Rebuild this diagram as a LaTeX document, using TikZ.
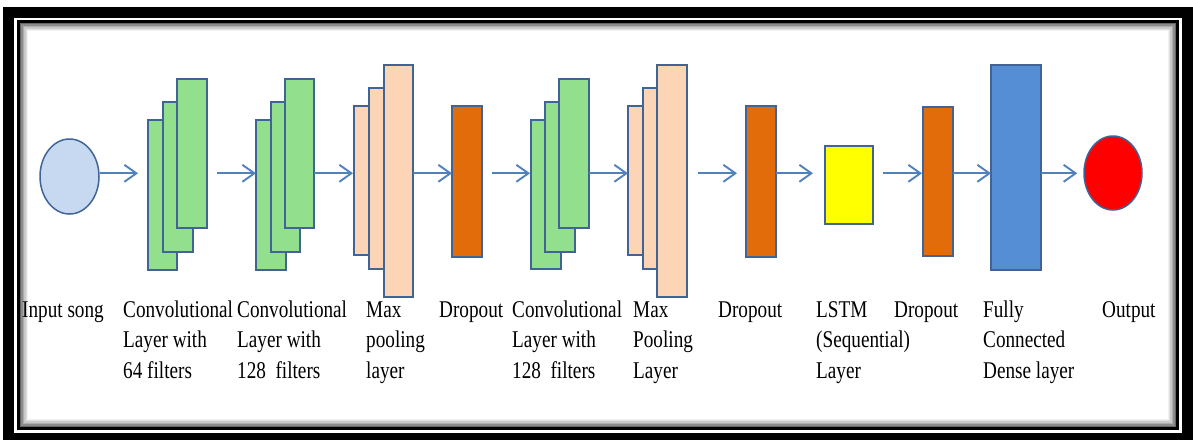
\documentclass[tikz,border=0pt]{standalone}
\usepackage{fontspec}
\setmainfont{Liberation Serif}[FakeStretch=0.8]
\usetikzlibrary{arrows.meta,shapes.geometric}
\definecolor{edge}{RGB}{65,100,150}
\definecolor{convgreen}{RGB}{146,224,142}
\definecolor{peach}{RGB}{251,213,181}
\definecolor{dropor}{RGB}{227,108,10}
\definecolor{lstmy}{RGB}{255,255,0}
\definecolor{denseb}{RGB}{85,142,213}
\definecolor{inblue}{RGB}{198,217,241}
\definecolor{outred}{RGB}{255,0,0}
\definecolor{arrowc}{RGB}{79,129,189}
\newcommand\layerbox[6]{\node[#2, minimum width={#5-#3}, minimum height={#6-#4}, anchor=north west] (#1) at (#3,#4) {};}
\newcommand\lbltab[1]{\begin{tabular}[t]{@{}l@{}}#1\end{tabular}}
\begin{document}
\begin{tikzpicture}[x=1pt,y=-1pt,
  blk/.style={draw=edge, line width=1.5pt, inner sep=0pt, outer sep=0pt},
  conv/.style={blk, fill=convgreen},
  pool/.style={blk, fill=peach},
  drop/.style={blk, fill=dropor},
  arr/.style={draw=arrowc, line width=1.9pt, -{Straight Barb[length=12pt,width=17pt,line width=1.9pt]}},
  lbl/.style={anchor=base west, inner sep=0pt, font=\fontsize{24}{30.5}\selectfont}]
\useasboundingbox (0,0) rectangle (1193,439);
\fill[white] (0,0) rectangle (1193,439);
% frame
\draw[line width=11pt] (8.5,12.5) rectangle (1187,438);
\draw[line width=3pt] (18.5,21.5) rectangle (1177.5,428.5);
\foreach \o/\c in {2.2/60,3.6/45,5/32,6.4/21,7.8/12,9.2/5}{
  \draw[line width=1.5pt, black!\c] (18.5+\o,21.5+\o) rectangle (1177.5-\o,428.5-\o);
}
\coordinate (mid) at (0,173.3);
% nodes
\node[ellipse, draw=edge, line width=1.5pt, fill=inblue, minimum width=59pt, minimum height=75pt, inner sep=0pt] (in) at (69.5,176.5) {};
\layerbox{c1a}{conv}{148}{120}{177}{270}
\layerbox{c1b}{conv}{163}{102}{193}{252}
\layerbox{c1c}{conv}{177}{79}{207}{228}
\layerbox{c2a}{conv}{256}{120}{286}{270}
\layerbox{c2b}{conv}{271}{102}{300}{252}
\layerbox{c2c}{conv}{285}{79}{314}{228}
\layerbox{m1a}{pool}{354}{106}{383}{255}
\layerbox{m1b}{pool}{369}{88}{398}{269}
\layerbox{m1c}{pool}{384}{65}{413}{297}
\layerbox{d1}{drop}{452}{106}{482}{257}
\layerbox{c3a}{conv}{531}{120}{561}{269}
\layerbox{c3b}{conv}{545}{102}{575}{252}
\layerbox{c3c}{conv}{559}{79}{589}{228}
\layerbox{m2a}{pool}{628}{106}{657}{255}
\layerbox{m2b}{pool}{643}{88}{672}{269}
\layerbox{m2c}{pool}{657}{65}{687}{297}
\layerbox{d2}{drop}{746}{106}{776}{257}
\layerbox{lstm}{blk,fill=lstmy}{825}{146}{873}{224}
\layerbox{d3}{drop}{923}{107}{953}{256}
\layerbox{dense}{blk,fill=denseb}{991}{65}{1041}{270}
\node[ellipse, draw=edge, line width=1.5pt, fill=outred, minimum width=58pt, minimum height=74pt, inner sep=0pt] (out) at (1113,173) {};
% arrows
\draw[arr] (in.east |- mid) -- ([xshift=-10pt]c1a.west |- mid);
\draw[arr] ([xshift=10pt]c1c.east |- mid) -- (c2a.west |- mid);
\draw[arr] (c2c.east |- mid) -- ([xshift=-1pt]m1a.west |- mid);
\draw[arr] (m1c.east |- mid) -- (d1.west |- mid);
\draw[arr] ([xshift=10pt]d1.east |- mid) -- ([xshift=-1pt]c3a.west |- mid);
\draw[arr] (c3c.east |- mid) -- (m2a.west |- mid);
\draw[arr] ([xshift=11pt]m2c.east |- mid) -- ([xshift=-9pt]d2.west |- mid);
\draw[arr] (d2.east |- mid) -- ([xshift=-12pt]lstm.west |- mid);
\draw[arr] ([xshift=10pt]lstm.east |- mid) -- ([xshift=-1pt]d3.west |- mid);
\draw[arr] (d3.east |- mid) -- (dense.west |- mid);
\draw[arr] (dense.east |- mid) -- ([xshift=-6pt]out.west |- mid);
% labels
\node[lbl] (t1) at (22,317) {\lbltab{Input song}};
\node[lbl] (t2) at (123,317) {\lbltab{Convolutional\\Layer with\\64 filters}};
\node[lbl] (t3) at (237,317) {\lbltab{Convolutional\\Layer with\\128\ \ filters}};
\node[lbl] (t4) at (366,317) {\lbltab{Max\\pooling\\layer}};
\node[lbl] (t5) at (439,317) {\lbltab{Dropout}};
\node[lbl] (t6) at (512,317) {\lbltab{Convolutional\\Layer with\\128\ \ filters}};
\node[lbl] (t7) at (633,317) {\lbltab{Max\\Pooling\\Layer}};
\node[lbl] (t8) at (718,317) {\lbltab{Dropout}};
\node[lbl] (t9) at (816,317) {\lbltab{LSTM\\(Sequential)\\Layer}};
\node[lbl] (t10) at (894,317) {\lbltab{Dropout}};
\node[lbl] (t11) at (983,317) {\lbltab{Fully\\Connected\\Dense layer}};
\node[lbl] (t12) at (1102,317) {\lbltab{Output}};
\end{tikzpicture}
\end{document}
